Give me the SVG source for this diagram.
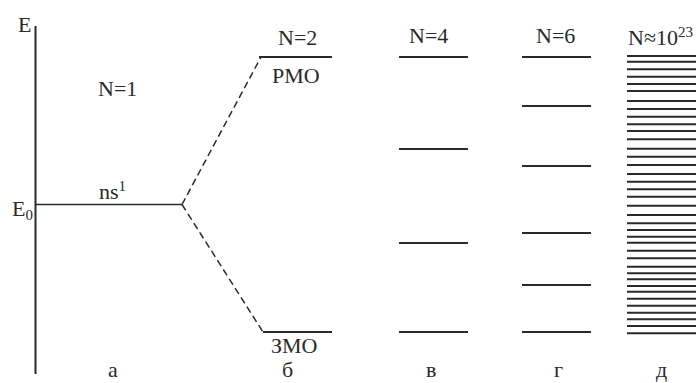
<svg xmlns="http://www.w3.org/2000/svg" width="697" height="383" viewBox="0 0 697 383">
<style>
text{font-family:"Liberation Serif",Tinos,"Noto Serif","Nimbus Roman","FreeSerif","DejaVu Serif","Times New Roman",Times,serif;font-size:22px;fill:#2a2a2a}
.lv{stroke:#2a2a2a;stroke-width:2;fill:none}
.thin{stroke:#2a2a2a;stroke-width:1.3;fill:none}
.dash{stroke:#2a2a2a;stroke-width:1.5;stroke-dasharray:7 4;fill:none}
.sub{font-size:15px}
</style>
<rect width="697" height="383" fill="#fff"/>
<g id="axis">
<line x1="35.5" y1="26" x2="35.5" y2="374" stroke="#2a2a2a" stroke-width="2"/>
<text x="18" y="32">E</text>
<text x="12" y="216">E<tspan class="sub" dy="4">0</tspan></text>
</g>
<g id="n1">
<line class="thin" x1="36" y1="204.5" x2="182" y2="204.5"/>
<text x="98" y="96">N=1</text>
<text x="99" y="199">ns<tspan class="sub" dy="-8">1</tspan></text>
<text x="108" y="377">а</text>
</g>
<g id="connectors">
<line class="dash" x1="182" y1="204.5" x2="261" y2="57"/>
<line class="dash" x1="182" y1="204.5" x2="263" y2="332"/>
</g>
<g id="n2">
<line class="lv" x1="259" y1="57" x2="332" y2="57"/>
<line class="lv" x1="263" y1="332" x2="332" y2="332"/>
<text x="278" y="45">N=2</text>
<text x="272" y="83">РМО</text>
<text x="271" y="353">ЗМО</text>
<text x="282" y="377">б</text>
</g>
<g id="n4">
<line class="lv" x1="399" y1="57" x2="468" y2="57"/>
<line class="lv" x1="399" y1="149" x2="468" y2="149"/>
<line class="lv" x1="399" y1="243" x2="468" y2="243"/>
<line class="lv" x1="399" y1="332" x2="468" y2="332"/>
<text x="409" y="43">N=4</text>
<text x="426" y="377">в</text>
</g>
<g id="n6">
<line class="lv" x1="522" y1="57" x2="591" y2="57"/>
<line class="lv" x1="522" y1="106" x2="591" y2="106"/>
<line class="lv" x1="522" y1="166" x2="591" y2="166"/>
<line class="lv" x1="522" y1="233" x2="591" y2="233"/>
<line class="lv" x1="522" y1="285" x2="591" y2="285"/>
<line class="lv" x1="522" y1="332" x2="591" y2="332"/>
<text x="536" y="43">N=6</text>
<text x="554" y="377">г</text>
</g>
<g id="nbulk">
<path class="lv" d="M627 56H696M627 61.7H696M627 69.3H696M627 76.7H696M627 84H696M627 91H696M627 101H696M627 109H696M627 116.7H696M627 124.3H696M627 131H696M627 139.3H696M627 148.7H696M627 156.7H696M627 165H696M627 174H696M627 181.7H696M627 189.3H696M627 196.7H696M627 205.7H696M627 215H696M627 223.3H696M627 230H696M627 236.7H696M627 242.7H696M627 250.7H696M627 258.3H696M627 266.7H696M627 273.3H696M627 279.3H696M627 286H696M627 291.7H696M627 298.7H696M627 305.7H696M627 312.7H696M627 319.3H696M627 326H696M627 333.3H696"/>
<text x="628" y="45">N≈10<tspan class="sub" dy="-8">23</tspan></text>
<text x="656" y="377">д</text>
</g>
</svg>
